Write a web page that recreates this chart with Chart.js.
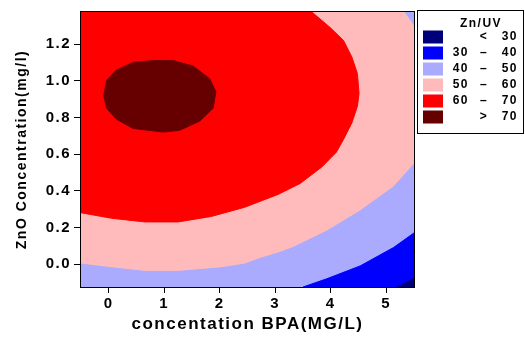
<!DOCTYPE html>
<html>
<head>
<meta charset="utf-8">
<script src="https://cdn.jsdelivr.net/npm/chart.js@4.4.1/dist/chart.umd.min.js"></script>
<style>
  html, body { margin: 0; padding: 0; background: #fff; }
  canvas { display: block; }
</style>
</head>
<body>
<canvas id="myChart" width="525" height="338"></canvas>
<script>
// contour outlines (x = BPA, y = ZnO)
const over70X = [-0.09, -0.04, 0.14, 0.44, 0.80, 1.16, 1.52, 1.82, 1.93, 1.88, 1.64, 1.28, 0.98, 0.44, 0.14, -0.04, -0.09];
const over70Y = [0.92, 1.00, 1.06, 1.10, 1.11, 1.11, 1.08, 1.01, 0.94, 0.85, 0.78, 0.73, 0.72, 0.74, 0.79, 0.85, 0.92];

const red60X = [-0.5, 0.05, 0.65, 1.25, 1.85, 2.45, 3.05, 3.45, 3.84, 4.10, 4.23, 4.38, 4.48, 4.51, 4.48, 4.38, 4.23, 3.99, 3.66, -0.5, -0.5];
const red60Y = [0.28, 0.25, 0.23, 0.23, 0.26, 0.31, 0.38, 0.44, 0.53, 0.61, 0.68, 0.77, 0.86, 0.93, 1.04, 1.13, 1.22, 1.29, 1.375, 1.375, 0.28];

const low50X = [-0.5, 0.05, 0.65, 1.25, 2.03, 2.45, 2.72, 3.05, 3.32, 3.93, 4.53, 5.13, 5.5];
const low50Y = [0.00, -0.02, -0.04, -0.04, -0.02, 0.00, 0.03, 0.06, 0.09, 0.18, 0.29, 0.42, 0.545];

const corner50X = [5.34, 5.5];
const corner50Y = [1.375, 1.305];

const low40X = [3.5, 3.93, 4.53, 5.13, 5.5];
const low40Y = [-0.125, -0.08, -0.01, 0.09, 0.17];

const low30X = [5.2, 5.5];
const low30Y = [-0.125, -0.077];

const xTicks = [0, 1, 2, 3, 4, 5];
const yTicks = [0, 0.2, 0.4, 0.6, 0.8, 1.0, 1.2];

const legendTitle = 'Zn/UV';
const legendLo = ['', '30', '40', '50', '60', ''];
const legendSep = ['<', '–', '–', '–', '–', '>'];
const legendHi = ['30', '40', '50', '60', '70', '70'];
const levelColors = ['#00007b', '#0000ff', '#aaaaff', '#ffbbbb', '#ff0000', '#660000'];

function pts(xs, ys) {
    return xs.map((x, i) => ({ x: x, y: ys[i] }));
}

function region(label, xs, ys, color, fill) {
    return {
        label: label,
        data: pts(xs, ys),
        showLine: true,
        pointRadius: 0,
        borderWidth: 1,
        borderColor: color,
        backgroundColor: color,
        fill: fill,
        tension: 0
    };
}

const plotBox = {
    id: 'plotBox',
    beforeDraw(chart) {
        chart.ctx.letterSpacing = '1.5px';
    },
    beforeDatasetsDraw(chart) {
        // base level of the map (50 - 60)
        const a = chart.chartArea, ctx = chart.ctx;
        ctx.save();
        ctx.fillStyle = levelColors[3];
        ctx.fillRect(a.left, a.top, a.right - a.left, a.bottom - a.top);
        ctx.restore();
    },
    afterDatasetsDraw(chart) {
        const a = chart.chartArea, ctx = chart.ctx;
        ctx.save();
        ctx.strokeStyle = '#000';
        ctx.lineWidth = 1;
        ctx.strokeRect(Math.round(a.left) - 0.5, Math.round(a.top) - 0.5,
                       Math.round(a.right - a.left) + 1, Math.round(a.bottom - a.top) + 1);
        ctx.restore();
    },
    afterDraw(chart) {
        // legend box on the right
        const ctx = chart.ctx;
        ctx.save();
        ctx.letterSpacing = '1.5px';
        ctx.strokeStyle = '#000';
        ctx.lineWidth = 1;
        ctx.strokeRect(417.5, 10.5, 106, 123);
        ctx.fillStyle = '#000';
        ctx.font = 'bold 12px "Liberation Sans", Arial, sans-serif';
        ctx.textBaseline = 'middle';
        ctx.textAlign = 'center';
        ctx.fillText(legendTitle, 481, 24);
        for (let i = 0; i < legendHi.length; i++) {
            const y = 37 + 16 * i;
            ctx.fillStyle = levelColors[i];
            ctx.fillRect(423, y - 6.5, 20, 13);
            ctx.fillStyle = '#000';
            ctx.textAlign = 'right';
            if (legendLo[i]) ctx.fillText(legendLo[i], 469, y);
            ctx.fillText(legendHi[i], 518, y);
            ctx.textAlign = 'center';
            ctx.fillText(legendSep[i], 484, y);
        }
        ctx.restore();
    }
};

const ctx = document.getElementById('myChart').getContext('2d');
const tickFont = { family: '"Liberation Sans", Arial, sans-serif', size: 15, weight: 'bold' };

new Chart(ctx, {
    type: 'scatter',
    data: {
        datasets: [
            region('> 70', over70X, over70Y, levelColors[5], 'shape'),
            region('60 - 70', red60X, red60Y, levelColors[4], 'shape'),
            region('< 30', low30X, low30Y, levelColors[0], 'start'),
            region('30 - 40', low40X, low40Y, levelColors[1], 'start'),
            region('40 - 50', corner50X, corner50Y, levelColors[2], 'end'),
            region('40 - 50', low50X, low50Y, levelColors[2], 'start')
        ]
    },
    options: {
        responsive: false,
        animation: false,
        devicePixelRatio: 1,
        layout: { padding: { left: 0, top: 10, right: 111, bottom: 0 } },
        plugins: {
            legend: { display: false },
            tooltip: { enabled: false }
        },
        scales: {
            x: {
                type: 'linear',
                min: -0.5,
                max: 5.5,
                afterBuildTicks: s => { s.ticks = xTicks.map(v => ({ value: v })); },
                afterFit: s => { s.height = 51; },
                grid: { drawOnChartArea: false, drawTicks: true, tickLength: 6, color: '#000' },
                border: { display: true, color: '#000' },
                ticks: { font: tickFont, color: '#000', padding: 2, callback: v => String(v) },
                title: {
                    display: true,
                    text: 'concentation BPA(MG/L)',
                    color: '#000',
                    font: { family: '"Liberation Sans", Arial, sans-serif', size: 17, weight: 'bold' },
                    padding: { top: 0, bottom: 3 }
                }
            },
            y: {
                type: 'linear',
                min: -0.125,
                max: 1.375,
                afterBuildTicks: s => { s.ticks = yTicks.map(v => ({ value: v })); },
                afterFit: s => { s.width = 81; },
                grid: { drawOnChartArea: false, drawTicks: true, tickLength: 7, color: '#000' },
                border: { display: true, color: '#000' },
                ticks: { font: tickFont, color: '#000', padding: 3, callback: v => v.toFixed(1) },
                title: {
                    display: true,
                    text: 'ZnO Concentration(mg/l)',
                    color: '#000',
                    font: { family: '"Liberation Sans", Arial, sans-serif', size: 14, weight: 'bold' },
                    padding: { top: 14, bottom: 14 }
                }
            }
        }
    },
    plugins: [plotBox]
});
</script>
</body>
</html>
